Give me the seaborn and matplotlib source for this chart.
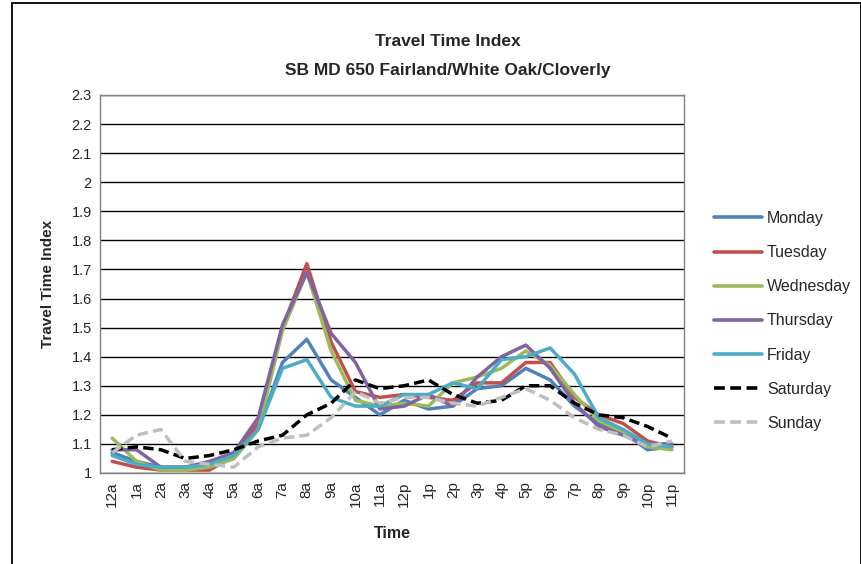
import pandas as pd
import numpy as np
import matplotlib
matplotlib.use("Agg")
import matplotlib.pyplot as plt
import seaborn as sns
from matplotlib.patches import Rectangle

hours = ["12a", "1a", "2a", "3a", "4a", "5a", "6a", "7a", "8a", "9a", "10a", "11a",
         "12p", "1p", "2p", "3p", "4p", "5p", "6p", "7p", "8p", "9p", "10p", "11p"]

monday = [1.07, 1.04, 1.02, 1.02, 1.02, 1.05, 1.15, 1.38, 1.46, 1.32, 1.26, 1.20,
          1.25, 1.22, 1.23, 1.29, 1.30, 1.36, 1.32, 1.23, 1.17, 1.14, 1.08, 1.09]
tuesday = [1.04, 1.02, 1.01, 1.01, 1.01, 1.06, 1.17, 1.50, 1.72, 1.45, 1.28, 1.26,
           1.27, 1.26, 1.25, 1.31, 1.31, 1.38, 1.38, 1.26, 1.20, 1.17, 1.11, 1.09]
wednesday = [1.12, 1.04, 1.01, 1.01, 1.02, 1.05, 1.15, 1.49, 1.69, 1.42, 1.25, 1.23,
             1.24, 1.23, 1.31, 1.33, 1.36, 1.42, 1.37, 1.27, 1.18, 1.14, 1.09, 1.08]
thursday = [1.08, 1.08, 1.02, 1.02, 1.04, 1.07, 1.19, 1.51, 1.69, 1.48, 1.38, 1.22,
            1.23, 1.27, 1.23, 1.33, 1.40, 1.44, 1.36, 1.24, 1.16, 1.13, 1.10, 1.10]
friday = [1.06, 1.03, 1.02, 1.02, 1.03, 1.06, 1.15, 1.36, 1.39, 1.26, 1.23, 1.23,
          1.27, 1.27, 1.31, 1.29, 1.39, 1.40, 1.43, 1.34, 1.19, 1.15, 1.10, 1.09]
saturday = [1.08, 1.09, 1.08, 1.05, 1.06, 1.08, 1.11, 1.13, 1.20, 1.24, 1.32, 1.29,
            1.30, 1.32, 1.27, 1.24, 1.25, 1.30, 1.30, 1.24, 1.20, 1.19, 1.16, 1.12]
sunday = [1.07, 1.13, 1.15, 1.04, 1.03, 1.02, 1.09, 1.12, 1.13, 1.19, 1.28, 1.24,
          1.26, 1.26, 1.24, 1.23, 1.26, 1.29, 1.25, 1.19, 1.15, 1.13, 1.09, 1.11]

days = ["Monday", "Tuesday", "Wednesday", "Thursday", "Friday", "Saturday", "Sunday"]
series = [monday, tuesday, wednesday, thursday, friday, saturday, sunday]

DAY_COLORS = {"Monday": "#4F81BD", "Tuesday": "#C0504D", "Wednesday": "#9BBB59",
              "Thursday": "#8064A2", "Friday": "#4BACC6", "Saturday": "#000000",
              "Sunday": "#BFBFBF"}
DAY_DASHES = {d: "" for d in days[:5]}
DAY_DASHES["Saturday"] = (3, 1.5)
DAY_DASHES["Sunday"] = (3, 1.5)

df = pd.DataFrame({
    "hour": np.tile(np.arange(len(hours)), len(days)),
    "tti": np.concatenate(series),
    "day": np.repeat(days, len(hours)),
})

sns.set_style("white")
plt.rcParams["font.family"] = ["Liberation Sans", "DejaVu Sans"]

fig = plt.figure(figsize=(8.62, 5.64), dpi=100)
ax = fig.add_axes([100 / 862, 1 - 473 / 564, 584 / 862, 378 / 564])

sns.lineplot(data=df, x="hour", y="tti", hue="day", style="day",
             palette=DAY_COLORS, dashes=DAY_DASHES, hue_order=days,
             style_order=days, linewidth=2.5, ax=ax, legend=False)

ax.set_xlim(-0.5, len(hours) - 0.5)
ax.set_ylim(1, 2.3)
yt = np.round(np.arange(1, 2.31, 0.1), 1)
ax.set_yticks(yt)
ax.set_yticklabels([f"{v:g}" for v in yt], fontsize=10.5)
ax.set_xticks(range(len(hours)))
ax.set_xticklabels(hours, rotation=90, fontsize=11)
ax.yaxis.grid(True, color="black", linewidth=1.0)
ax.set_axisbelow(True)
for s in ax.spines.values():
    s.set_color("#808080")
    s.set_linewidth(1.0)
ax.tick_params(axis="both", length=0, pad=6)

ax.set_xlabel("Time", fontsize=11.5, fontweight="bold", labelpad=14)
ax.set_ylabel("Travel Time Index", fontsize=11, fontweight="bold", labelpad=12)

fig.text(448 / 862, 1 - 42 / 564, "Travel Time Index", ha="center", va="center",
         fontsize=12.5, fontweight="bold")
fig.text(448 / 862, 1 - 70 / 564, "SB MD 650 Fairland/White Oak/Cloverly", ha="center",
         va="center", fontsize=12.5, fontweight="bold")

handles = [plt.Line2D([], [], color=DAY_COLORS[d], linewidth=2.6,
                      linestyle=(0, DAY_DASHES[d]) if DAY_DASHES[d] else "-")
           for d in days]
fig.legend(handles, days, loc="center left", bbox_to_anchor=(700 / 862, 1 - 321 / 564),
           frameon=False, fontsize=11.5, handlelength=3.0, handletextpad=0.3,
           labelspacing=1.2)

fig.patches.append(Rectangle((12 / 862, -0.05), 849 / 862, 1.05 - 3 / 564,
                             transform=fig.transFigure, fill=False,
                             edgecolor="black", linewidth=1.3))

fig.savefig("out.png", dpi=100)
plt.close()
